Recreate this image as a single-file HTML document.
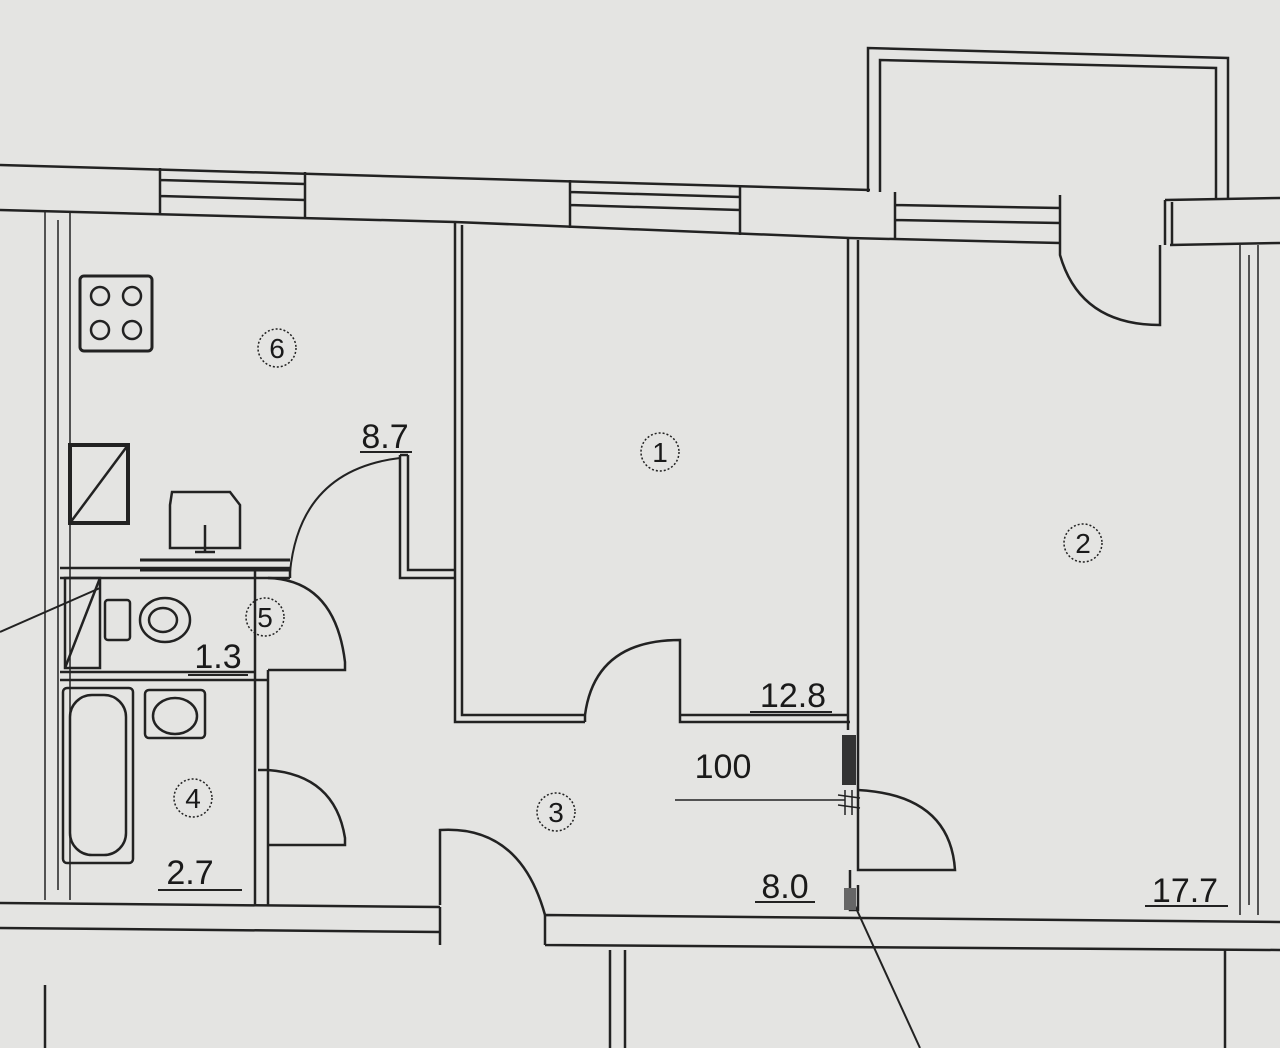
<!DOCTYPE html>
<html><head><meta charset="utf-8"><style>
html,body{margin:0;padding:0;background:#e4e4e2;}
svg{display:block}
text{font-family:"Liberation Sans",sans-serif;fill:#1a1a1a}
</style></head><body>
<svg width="1280" height="1048" viewBox="0 0 1280 1048" xmlns="http://www.w3.org/2000/svg">
<rect width="1280" height="1048" fill="#e4e4e2"/>
<g stroke="#222" stroke-width="2.5" fill="none">
<!-- balcony -->
<path d="M868 192 L868 48 L1228 58 L1228 200"/>
<path d="M880 192 L880 60 L1216 68 L1216 200"/>
<!-- top wall -->
<path d="M0 165 L870 190"/>
<path d="M0 210 L455 222 L850 238 L1060 243"/>
<path d="M1165 200 L1280 198"/>
<path d="M1170 245 L1280 243"/>
<!-- windows -->
<path d="M160 168 L160 213 M305 172 L305 217 M160 180 L305 184 M160 196 L305 200"/>
<path d="M570 180 L570 228 M740 185 L740 235 M570 192 L740 197 M570 205 L740 210"/>
<path d="M895 192 L895 240 M1060 195 L1060 243 M895 205 L1060 208 M895 220 L1060 223"/>
<path d="M1165 200 L1165 245 M1172 202 L1172 245"/>
<!-- left wall -->
<path d="M45 210 L45 900 M70 212 L70 900 M58 220 L58 890" stroke-width="1.5"/>
<!-- right wall -->
<path d="M1240 245 L1240 915 M1258 245 L1258 915 M1249 255 L1249 905" stroke-width="1.5"/>
<!-- bottom walls -->
<path d="M0 903 L440 907 M0 928 L440 932 M440 907 L440 945"/>
<path d="M545 915 L1280 922 M545 945 L1280 950 M545 915 L545 945"/>
<path d="M45 985 L45 1048 M610 950 L610 1048 M625 950 L625 1048 M1225 950 L1225 1048"/>
<!-- room 1 box -->
<path d="M455 222 L455 722 L585 722 M462 225 L462 715 L585 715 M585 715 L585 722"/>
<path d="M680 715 L680 722 L850 722 M680 715 L848 715"/>
<!-- partition 1/2 -->
<path d="M848 238 L848 730 M858 240 L858 790"/>
<!-- kitchen lower wall -->
<path d="M60 568 L290 568 M60 578 L290 578 M290 568 L290 578"/>
<path d="M400 455 L400 578 L455 578 M408 455 L408 570 L455 570 M400 455 L408 455"/>
<!-- bathroom walls -->
<path d="M255 570 L255 905 M268 670 L268 905"/>
<path d="M60 672 L255 672 M60 680 L255 680"/>
<path d="M255 680 L268 680"/>
<!-- doors -->
<path d="M290 568 L290 578 M290 572 Q300 470 400 458" stroke-width="2"/>
<path d="M268 670 L345 670 L345 662 Q335 580 268 578"/>
<path d="M268 770 L258 770 M268 845 L345 845 L345 838 Q335 775 268 770"/>
<path d="M440 905 L440 830 Q520 825 545 915"/>
<path d="M585 715 Q595 640 680 640 L680 715"/>
<path d="M858 790 L858 870 L955 870 Q950 795 858 790 M850 870 L850 910 L858 910 L858 885"/>
<path d="M1060 243 L1060 255 Q1080 325 1160 325 L1160 245"/>
<!-- fixtures -->
<rect x="80" y="276" width="72" height="75" rx="4" stroke-width="3"/>
<circle cx="100" cy="296" r="9"/><circle cx="132" cy="296" r="9"/>
<circle cx="100" cy="330" r="9"/><circle cx="132" cy="330" r="9"/>
<rect x="70" y="445" width="58" height="78" stroke-width="4"/>
<path d="M70 523 L128 445"/>
<path d="M172 492 L182 492 L205 492 L230 492 L240 505 L240 548 L170 548 L170 505 Z"/>
<path d="M205 525 L205 552 M195 552 L215 552"/>
<path d="M140 560 L290 560 M140 570 L290 570" stroke-width="3"/>
<rect x="65" y="578" width="35" height="90"/>
<path d="M65 668 L100 578"/>
<path d="M0 632 L100 588" stroke-width="2"/>
<rect x="105" y="600" width="25" height="40" rx="3"/>
<ellipse cx="165" cy="620" rx="25" ry="22"/>
<ellipse cx="163" cy="620" rx="14" ry="12"/>
<rect x="63" y="688" width="70" height="175" rx="4"/>
<rect x="70" y="695" width="56" height="160" rx="22"/>
<rect x="145" y="690" width="60" height="48" rx="4"/>
<ellipse cx="175" cy="716" rx="22" ry="18"/>
<path d="M838 795 L860 798 M838 805 L860 808 M845 790 L845 815 M852 790 L852 815" stroke-width="1.5"/>
<path d="M850 895 L920 1048" stroke-width="2"/>
<path d="M675 800 L845 800" stroke-width="1.5"/>
<!-- label underlines -->
<path d="M360 452 L412 452 M750 712 L832 712 M188 675 L248 675 M158 890 L242 890 M755 902 L815 902 M1145 906 L1228 906" stroke-width="2"/>
</g>
<rect x="842" y="735" width="14" height="50" fill="#333"/>
<rect x="844" y="888" width="12" height="22" fill="#666"/>
<g fill="none" stroke="#222" stroke-width="1.5" stroke-dasharray="2,2">
<circle cx="277" cy="348" r="19"/><circle cx="660" cy="452" r="19"/>
<circle cx="1083" cy="543" r="19"/><circle cx="265" cy="617" r="19"/>
<circle cx="193" cy="798" r="19"/><circle cx="556" cy="812" r="19"/>
</g>
<g font-size="28" text-anchor="middle">
<text x="277" y="358">6</text><text x="660" y="462">1</text>
<text x="1083" y="553">2</text><text x="265" y="627">5</text>
<text x="193" y="808">4</text><text x="556" y="822">3</text>
</g>
<g font-size="34" text-anchor="middle">
<text x="385" y="448">8.7</text><text x="793" y="707">12.8</text>
<text x="723" y="778">100</text><text x="218" y="668">1.3</text>
<text x="190" y="884">2.7</text><text x="785" y="898">8.0</text>
<text x="1185" y="902">17.7</text>
</g>
</svg>
</body></html>
